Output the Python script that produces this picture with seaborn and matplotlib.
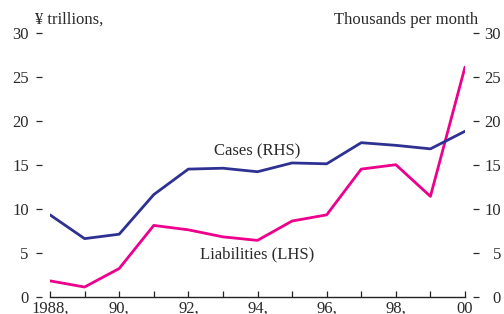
import numpy as np
import pandas as pd
import matplotlib
matplotlib.use("Agg")
import matplotlib.pyplot as plt
import seaborn as sns

# Data
years = list(range(1988, 2001))
cases = [9.3, 6.6, 7.1, 11.6, 14.5, 14.6, 14.2, 15.2, 15.1, 17.5, 17.2, 16.8, 18.8]
liabilities = [1.8, 1.1, 3.2, 8.1, 7.6, 6.8, 6.4, 8.6, 9.3, 14.5, 15.0, 11.4, 26.1]
year_labels = ["1988,", "90,", "92,", "94,", "96,", "98,", "00"]
left_ticks = [0, 5, 10, 15, 20, 25, 30]

blue = "#2e3192"
pink = "#ec008c"
txt = "#2a2a2a"

sns.set_style("white")
plt.rcParams["font.family"] = ["Liberation Serif", "DejaVu Serif"]
plt.rcParams["font.size"] = 12

df = pd.DataFrame({"year": years, "cases": cases, "liabilities": liabilities})

fig = plt.figure(figsize=(5.04, 3.14), dpi=100)
ax = fig.add_axes([50 / 504, 1 - 296.7 / 314, 415 / 504, 264 / 314])
ax2 = ax.twinx()

sns.lineplot(data=df, x="year", y="liabilities", ax=ax, color=pink, linewidth=2.0)
sns.lineplot(data=df, x="year", y="cases", ax=ax2, color=blue, linewidth=2.0)

for a in (ax, ax2):
    a.set_xlim(1988, 2000)
    a.set_ylim(0, 30)
    a.set_xlabel("")
    a.set_ylabel("")
    a.set_yticks(left_ticks)
    for s in ("top", "left", "right"):
        a.spines[s].set_visible(False)

ax2.spines["bottom"].set_visible(False)
ax.spines["bottom"].set_color("#222222")
ax.spines["bottom"].set_linewidth(1.0)

# y ticks as small dashes set away from the plot
ax.spines["left"].set_position(("outward", 5.8))
ax2.spines["right"].set_position(("outward", 5.8))
ax.tick_params(axis="y", left=True, direction="out", length=4, width=0.9,
               color=txt, labelcolor=txt, pad=5.5, labelsize=12)
ax2.tick_params(axis="y", right=True, direction="out", length=4, width=0.9,
                color=txt, labelcolor=txt, pad=16, labelsize=12)
for lab in ax2.get_yticklabels():
    lab.set_horizontalalignment("right")

# x axis: minor ticks every year pointing up, labels every two years
ax.set_xticks(list(range(1988, 2001, 2)))
ax.set_xticklabels(year_labels)
ax.set_xticks(years, minor=True)
ax.tick_params(axis="x", which="both", bottom=True, direction="in", length=4,
               width=0.9, color="#222222", labelcolor=txt, pad=3, labelsize=12)
ax2.tick_params(axis="x", which="both", bottom=False, labelbottom=False)

ax.text(1994.0, 4.8, "Liabilities (LHS)", ha="center", va="center", color=txt, fontsize=12)
ax2.text(1994.0, 16.5, "Cases (RHS)", ha="center", va="center", color=txt, fontsize=12)

fig.text(35 / 504, 1 - 24 / 314, "¥ trillions,", ha="left", va="baseline", color=txt, fontsize=12)
fig.text(478 / 504, 1 - 24 / 314, "Thousands per month", ha="right", va="baseline", color=txt, fontsize=12)

fig.savefig("out.png", dpi=100)
